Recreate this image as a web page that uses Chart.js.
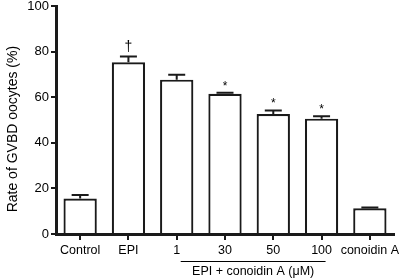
<!DOCTYPE html>
<html><head><meta charset="utf-8">
<script src="https://cdn.jsdelivr.net/npm/chart.js@4"></script>
<style>html,body{margin:0;padding:0;background:#fff}#w{width:403px;height:280px}</style>
</head><body><div id="w"><canvas id="c" width="403" height="280"></canvas></div>
<script>
const categories = ['Control','EPI','1','30','50','100','conoidin A'];
const values = [15.6, 75.3, 67.7, 61.5, 52.6, 50.6, 11.3];
const errors = [1.5, 2.6, 2.2, 0.4, 1.6, 1.0, 0.3];
const marks = ['', '†', '', '*', '*', '*', ''];
const yTicks = [0, 20, 40, 60, 80, 100];
const yTitle = 'Rate of GVBD oocytes (%)';
const groupLabel = 'EPI + conoidin A (\u03bcM)';
const groupFrom = 2, groupTo = 5;

const FONT = 'Liberation Sans, Arial, sans-serif';
const INK = '#1a1a1a';

const extras = {
  id: 'extras',
  afterDatasetsDraw(chart) {
    const ctx = chart.ctx, x = chart.scales.x, y = chart.scales.y;
    ctx.save();
    ctx.strokeStyle = INK; ctx.lineWidth = 2; ctx.fillStyle = '#000';
    values.forEach((v, i) => {
      const px = x.getPixelForValue(i);
      const top = y.getPixelForValue(v), cap = y.getPixelForValue(v + errors[i]);
      ctx.beginPath();
      ctx.moveTo(px, top); ctx.lineTo(px, cap);
      ctx.moveTo(px - 8.5, cap); ctx.lineTo(px + 8.5, cap);
      ctx.stroke();
      if (marks[i]) {
        ctx.textAlign = 'center'; ctx.textBaseline = 'alphabetic';
        if (marks[i] === '†') { ctx.font = '14px ' + FONT; ctx.fillText(marks[i], px, cap - 5); }
        else { ctx.font = '12px ' + FONT; ctx.fillText(marks[i], px, cap - 3); }
      }
    });
    const x1 = x.getPixelForValue(groupFrom) + 4, x2 = x.getPixelForValue(groupTo) + 4;
    ctx.lineWidth = 1; ctx.strokeStyle = '#000';
    ctx.beginPath(); ctx.moveTo(x1, 261.5); ctx.lineTo(x2, 261.5); ctx.stroke();
    ctx.font = '12.5px ' + FONT; ctx.textAlign = 'center'; ctx.textBaseline = 'alphabetic';
    ctx.fillText(groupLabel, (x1 + x2) / 2, 275);
    // y-axis title, centred slightly below the plot middle as in the reference
    const cy = y.getPixelForValue(46);
    ctx.translate(16.5, cy); ctx.rotate(-Math.PI / 2);
    ctx.font = '14px ' + FONT; ctx.textAlign = 'center'; ctx.textBaseline = 'alphabetic';
    ctx.fillText(yTitle, 0, 0);
    ctx.restore();
  }
};

new Chart(document.getElementById('c'), {
  type: 'bar',
  data: { labels: categories, datasets: [{
    data: values, backgroundColor: '#fff', borderColor: INK, borderWidth: 2.2,
    barPercentage: 0.69, categoryPercentage: 1, borderSkipped: 'bottom'
  }]},
  options: {
    responsive: false, animation: false, devicePixelRatio: 1,
    layout: { padding: { left: 0, right: 9, top: 6, bottom: 0 } },
    plugins: { legend: { display: false }, tooltip: { enabled: false } },
    scales: {
      x: {
        afterFit(s) { s.height = 46; s.paddingLeft = 0; s.paddingRight = 0; },
        grid: { offset: false, drawOnChartArea: false, drawTicks: true, tickLength: 6, color: INK, lineWidth: 2 },
        border: { display: true, width: 3, color: INK },
        ticks: { color: '#000', font: { family: FONT, size: 12.5 }, padding: 3, maxRotation: 0, autoSkip: false }
      },
      y: {
        min: 0, max: 100,
        afterFit(s) { s.width = 56; s.paddingTop = 0; s.paddingBottom = 0; },
        afterBuildTicks(s) { s.ticks = yTicks.map(v => ({ value: v })); },
        grid: { drawOnChartArea: false, drawTicks: true, tickLength: 5, color: INK, lineWidth: 2 },
        border: { display: true, width: 3, color: INK },
        ticks: { color: '#000', font: { family: FONT, size: 13 }, padding: 2 },
        title: { display: false }
      }
    }
  },
  plugins: [extras]
});
</script></body></html>
